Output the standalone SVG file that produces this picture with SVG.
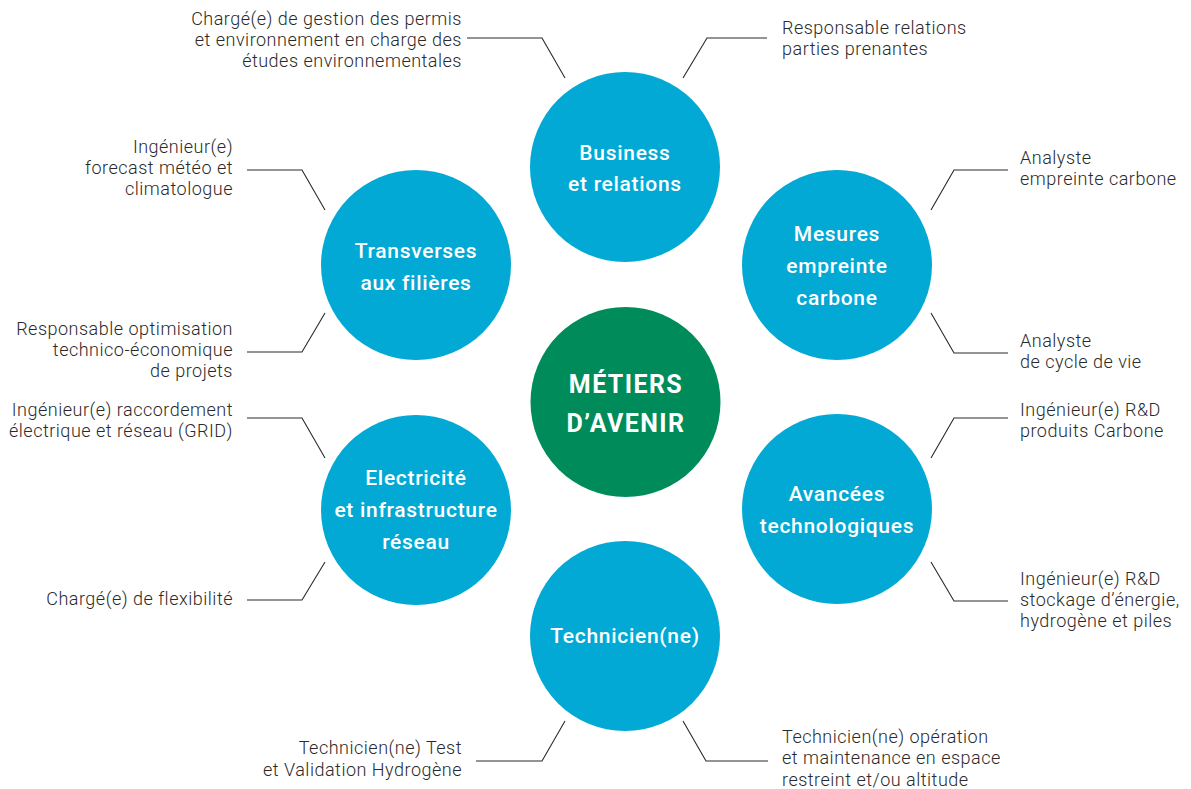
<svg xmlns="http://www.w3.org/2000/svg" width="1191" height="789" viewBox="0 0 1191 789">
<style>
.bg{fill:#ffffff}
.cat{fill:#02A9D4}
.core{fill:#008C5A}
.ct{font-family:Roboto,"Liberation Sans",sans-serif;font-weight:500;font-size:21px;letter-spacing:0.7px;fill:#ffffff;text-anchor:middle}
.mt{font-family:Roboto,"Liberation Sans",sans-serif;font-weight:700;font-size:25px;letter-spacing:1.4px;fill:#ffffff;text-anchor:middle}
.lb{font-family:Roboto,"Liberation Sans",sans-serif;font-weight:300;font-size:18px;letter-spacing:0.5px;fill:#2a2a2a}
.r{text-anchor:end}
.ln{fill:none;stroke:#2a2a2a;stroke-width:1.1}
</style>
<rect class="bg" x="0" y="0" width="1191" height="789"/>
<g id="connectors">
<polyline class="ln" points="467,38 542,38 565,78"/>
<polyline class="ln" points="683,78 707,38 767,38"/>
<polyline class="ln" points="931,210 954,170 1008,170"/>
<polyline class="ln" points="931,313 954,353 1008,353"/>
<polyline class="ln" points="931,458 954,418 1008,418"/>
<polyline class="ln" points="931,562 954,601 1008,601"/>
<polyline class="ln" points="247,170 302,170 325,210"/>
<polyline class="ln" points="325,313 302,352 247,352"/>
<polyline class="ln" points="247,418 302,418 325,458"/>
<polyline class="ln" points="325,562 302,600 247,600"/>
<polyline class="ln" points="565,721 542,761 476,761"/>
<polyline class="ln" points="683,721 706,761 768,761"/>
</g>
<g id="center">
<circle class="core" cx="625.5" cy="402" r="95"/>
<text class="mt" x="626" y="393">MÉTIERS</text>
<text class="mt" x="626" y="432">D’AVENIR</text>
</g>
<g id="business">
<circle class="cat" cx="625" cy="167" r="95"/>
<text class="ct" x="625" y="160">Business</text>
<text class="ct" x="625" y="191">et relations</text>
</g>
<g id="mesures">
<circle class="cat" cx="837" cy="265" r="95"/>
<text class="ct" x="837" y="241">Mesures</text>
<text class="ct" x="837" y="273">empreinte</text>
<text class="ct" x="837" y="305">carbone</text>
</g>
<g id="avancees">
<circle class="cat" cx="837" cy="509" r="95"/>
<text class="ct" x="837" y="501">Avancées</text>
<text class="ct" x="837" y="533">technologiques</text>
</g>
<g id="technicien">
<circle class="cat" cx="625" cy="636" r="95"/>
<text class="ct" x="625" y="643">Technicien(ne)</text>
</g>
<g id="electricite">
<circle class="cat" cx="416" cy="510" r="95"/>
<text class="ct" x="416" y="485">Electricité</text>
<text class="ct" x="416" y="517">et infrastructure</text>
<text class="ct" x="416" y="549">réseau</text>
</g>
<g id="transverses">
<circle class="cat" cx="416" cy="265" r="95"/>
<text class="ct" x="416" y="258">Transverses</text>
<text class="ct" x="416" y="290">aux filières</text>
</g>
<g id="label-permis">
<text class="lb r" x="462" y="25">Chargé(e) de gestion des permis</text>
<text class="lb r" x="462" y="46">et environnement en charge des</text>
<text class="lb r" x="462" y="67">études environnementales</text>
</g>
<g id="label-parties">
<text class="lb" x="782" y="34">Responsable relations</text>
<text class="lb" x="782" y="55">parties prenantes</text>
</g>
<g id="label-empreinte">
<text class="lb" x="1020" y="164">Analyste</text>
<text class="lb" x="1020" y="185">empreinte carbone</text>
</g>
<g id="label-cycle">
<text class="lb" x="1020" y="347">Analyste</text>
<text class="lb" x="1020" y="368">de cycle de vie</text>
</g>
<g id="label-rd-carbone">
<text class="lb" x="1020" y="416">Ingénieur(e) R&amp;D</text>
<text class="lb" x="1020" y="437">produits Carbone</text>
</g>
<g id="label-rd-stockage">
<text class="lb" x="1020" y="585">Ingénieur(e) R&amp;D</text>
<text class="lb" x="1020" y="606">stockage d’énergie,</text>
<text class="lb" x="1020" y="627">hydrogène et piles</text>
</g>
<g id="label-forecast">
<text class="lb r" x="233" y="153">Ingénieur(e)</text>
<text class="lb r" x="233" y="174">forecast météo et</text>
<text class="lb r" x="233" y="195">climatologue</text>
</g>
<g id="label-optimisation">
<text class="lb r" x="233" y="335">Responsable optimisation</text>
<text class="lb r" x="233" y="356">technico-économique</text>
<text class="lb r" x="233" y="377">de projets</text>
</g>
<g id="label-raccordement">
<text class="lb r" x="233" y="416">Ingénieur(e) raccordement</text>
<text class="lb r" x="233" y="437">électrique et réseau (GRID)</text>
</g>
<g id="label-flexibilite">
<text class="lb r" x="233" y="605">Chargé(e) de flexibilité</text>
</g>
<g id="label-test">
<text class="lb r" x="462" y="754">Technicien(ne) Test</text>
<text class="lb r" x="462" y="776">et Validation Hydrogène</text>
</g>
<g id="label-operation">
<text class="lb" x="782" y="743">Technicien(ne) opération</text>
<text class="lb" x="782" y="764">et maintenance en espace</text>
<text class="lb" x="782" y="786">restreint et/ou altitude</text>
</g>
</svg>
